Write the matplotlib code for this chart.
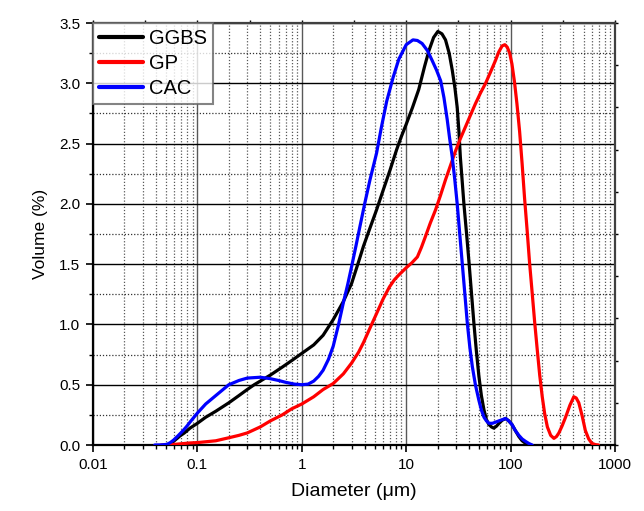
import numpy as np
import matplotlib
matplotlib.use("Agg")
import matplotlib.pyplot as plt
from matplotlib.ticker import FixedLocator, FuncFormatter, NullFormatter, MultipleLocator

plt.rcParams['font.family'] = ['Liberation Sans', 'DejaVu Sans']

# Particle size distributions (diameter in µm, volume in %)
ggbs_d = [0.051, 0.055, 0.059, 0.064, 0.068, 0.075, 0.085, 0.1, 0.12, 0.15, 0.2, 0.25,
          0.3, 0.35, 0.4, 0.5, 0.66, 0.8, 1.0, 1.3, 1.6, 2.0, 2.5, 3.0, 3.5, 3.9, 4.5,
          5.2, 6.0, 7.0, 8.1, 9.0, 10, 11.5, 13.2, 15, 16.5, 18.3, 20.1, 22, 23.8, 25.8,
          27.6, 29.3, 30.8, 32, 33, 34.3, 35.7, 37.8, 40, 42.2, 44.5, 47, 49.7, 52.5,
          55.6, 58.7, 62, 65.5, 69, 73, 77.5, 83, 89.6, 96, 103, 111, 120, 129, 139,
          147, 155]
ggbs_v = [0.0, 0.012, 0.03, 0.055, 0.075, 0.10, 0.14, 0.18, 0.23, 0.28, 0.35, 0.41,
          0.46, 0.50, 0.53, 0.58, 0.65, 0.70, 0.76, 0.83, 0.91, 1.04, 1.19, 1.34, 1.52,
          1.65, 1.80, 1.95, 2.11, 2.28, 2.45, 2.56, 2.66, 2.80, 2.95, 3.14, 3.27, 3.38,
          3.43, 3.41, 3.36, 3.25, 3.11, 2.96, 2.80, 2.60, 2.39, 2.20, 2.00, 1.76, 1.51,
          1.26, 1.01, 0.78, 0.57, 0.41, 0.29, 0.21, 0.17, 0.15, 0.14, 0.155, 0.18, 0.205,
          0.22, 0.20, 0.17, 0.12, 0.07, 0.035, 0.014, 0.004, 0.0]

gp_d = [0.045, 0.06, 0.085, 0.1, 0.15, 0.2, 0.25, 0.3, 0.4, 0.5, 0.65, 0.8, 1.0, 1.3,
        1.6, 2.0, 2.5, 3.0, 3.5, 3.9, 4.5, 5.2, 6.0, 6.9, 7.7, 8.5, 10, 11.3, 12.8, 14,
        15.3, 17, 19.1, 21.3, 23.8, 26.6, 29.7, 33, 37, 41, 46, 51.5, 57.6, 64, 71.7,
        77, 83, 88, 92.8, 98, 103, 109, 115, 122, 129, 136, 144, 152, 161, 170, 180,
        190, 201, 212, 225, 242, 260, 275, 290, 312, 336, 370, 403, 425, 450, 485, 520,
        560, 600, 650, 695]
gp_v = [0.0, 0.005, 0.017, 0.02, 0.035, 0.06, 0.08, 0.10, 0.15, 0.20, 0.25, 0.30, 0.34,
        0.40, 0.46, 0.51, 0.59, 0.68, 0.77, 0.85, 0.97, 1.09, 1.21, 1.31, 1.37, 1.41,
        1.47, 1.51, 1.56, 1.64, 1.73, 1.84, 1.95, 2.07, 2.20, 2.32, 2.44, 2.54, 2.64,
        2.73, 2.83, 2.92, 3.00, 3.09, 3.19, 3.26, 3.31, 3.32, 3.30, 3.25, 3.16, 3.01,
        2.83, 2.60, 2.33, 2.05, 1.78, 1.51, 1.26, 1.02, 0.79, 0.58, 0.40, 0.26, 0.15,
        0.08, 0.055, 0.07, 0.10, 0.16, 0.23, 0.33, 0.40, 0.39, 0.35, 0.24, 0.12, 0.05,
        0.014, 0.003, 0.0]

cac_d = [0.039, 0.045, 0.051, 0.055, 0.059, 0.065, 0.073, 0.08, 0.085, 0.1, 0.12, 0.15,
         0.2, 0.25, 0.3, 0.4, 0.5, 0.6, 0.7, 0.85, 1.0, 1.15, 1.3, 1.45, 1.6, 1.8, 2.0,
         2.25, 2.5, 2.75, 3.0, 3.3, 3.6, 4.0, 4.5, 5.2, 5.8, 6.5, 7.5, 8.5, 10, 11.6,
         12.8, 14.2, 16, 17.7, 19.5, 21.4, 23, 24.7, 26, 27.6, 29.2, 30.8, 32.5, 34.4,
         36.4, 38.5, 40.7, 43, 46, 49.7, 52.5, 55.6, 58.7, 62, 67, 72, 80, 89.6, 96, 103,
         111, 120, 129, 139, 150, 161]
cac_v = [0.0, 0.001, 0.005, 0.02, 0.04, 0.075, 0.12, 0.16, 0.19, 0.265, 0.34, 0.41,
         0.50, 0.535, 0.555, 0.562, 0.55, 0.535, 0.52, 0.505, 0.50, 0.505, 0.53, 0.57,
         0.62, 0.71, 0.82, 1.00, 1.18, 1.33, 1.48, 1.65, 1.81, 2.00, 2.20, 2.42, 2.64,
         2.85, 3.05, 3.20, 3.32, 3.36, 3.355, 3.33, 3.27, 3.19, 3.11, 3.02, 2.88, 2.70,
         2.55, 2.39, 2.20, 2.00, 1.76, 1.51, 1.26, 1.01, 0.81, 0.65, 0.50, 0.37, 0.29,
         0.23, 0.20, 0.18, 0.18, 0.19, 0.205, 0.22, 0.20, 0.17, 0.12, 0.08, 0.05, 0.03,
         0.012, 0.0]

series = [("GGBS", ggbs_d, ggbs_v, "black"),
          ("GP", gp_d, gp_v, "#ff0000"),
          ("CAC", cac_d, cac_v, "#0000ff")]

x_ticks = [0.01, 0.1, 1, 10, 100, 1000]

fig = plt.figure(figsize=(6.44, 5.11), dpi=100)
ax = fig.add_axes([93 / 644, 66 / 511, 522 / 644, 422 / 511])

for name, d, v, c in series:
    ax.plot(d, v, color=c, lw=2.3, label=name, solid_joinstyle='round',
            solid_capstyle='round', zorder=3)

ax.set_xscale('log')
ax.set_xlim(0.01, 1000)
ax.set_ylim(0, 3.5)

ax.xaxis.set_major_locator(FixedLocator(x_ticks))
ax.xaxis.set_major_formatter(FuncFormatter(lambda v, p: f"{v:g}"))
minor = [m * 10.0 ** e for e in range(-2, 3) for m in range(2, 10)]
ax.xaxis.set_minor_locator(FixedLocator(minor))
ax.xaxis.set_minor_formatter(NullFormatter())
ax.yaxis.set_major_locator(MultipleLocator(0.5))
ax.yaxis.set_minor_locator(MultipleLocator(0.25))
ax.yaxis.set_major_formatter(FuncFormatter(lambda v, p: f"{v:.1f}"))

# grid lines
ax.grid(which='major', axis='x', color='0.35', ls='-', lw=1.0, zorder=0)
ax.grid(which='minor', axis='x', color='0.35', ls=(0, (1, 1.5)), lw=0.9, zorder=0)
ax.grid(which='major', axis='y', color='black', ls='-', lw=1.0, zorder=0)
ax.grid(which='minor', axis='y', color='0.2', ls=(0, (1, 1.5)), lw=0.9, zorder=0)
ax.set_axisbelow(True)

ax.tick_params(which='major', direction='out', length=5, width=1.2, labelsize=11,
               top=False, right=False, pad=4)
ax.tick_params(which='minor', direction='out', length=3, width=1.0, top=False, right=False)

for s in ax.spines.values():
    s.set_linewidth(1.6)
    s.set_color('black')
ax.spines['top'].set_color('0.25')
ax.spines['right'].set_color('0.25')

# secondary frame ticks along top and right
sec_x = ax.secondary_xaxis('top')
sec_x.xaxis.set_major_locator(FixedLocator(10.0 ** np.arange(-2, 3.01, 0.5)))
sec_x.xaxis.set_minor_locator(FixedLocator([]))
sec_x.xaxis.set_major_formatter(NullFormatter())
sec_x.tick_params(direction='out', length=2.5, width=1.0)
sec_x.spines['top'].set_visible(False)

sec_y = ax.secondary_yaxis('right')
sec_y.yaxis.set_major_locator(FixedLocator(np.arange(0, 3.51, 0.35)))
sec_y.yaxis.set_minor_locator(FixedLocator([]))
sec_y.yaxis.set_major_formatter(NullFormatter())
sec_y.tick_params(direction='out', length=2.5, width=1.0)
sec_y.spines['right'].set_visible(False)

ax.set_xlabel("Diameter (\u03bcm)", fontsize=14, labelpad=8)
ax.set_ylabel("Volume (%)", fontsize=12.5, labelpad=8)

leg = ax.legend(loc='upper left', bbox_to_anchor=(0, 1), borderaxespad=0.0,
                fontsize=14.5, frameon=True, fancybox=False, handlelength=2.2,
                handletextpad=0.3, labelspacing=0.3, borderpad=0.3)
leg.get_frame().set_edgecolor('0.4')
leg.get_frame().set_linewidth(1.5)
for line in leg.get_lines():
    line.set_linewidth(3.0)

fig.savefig("out.png", dpi=100)
